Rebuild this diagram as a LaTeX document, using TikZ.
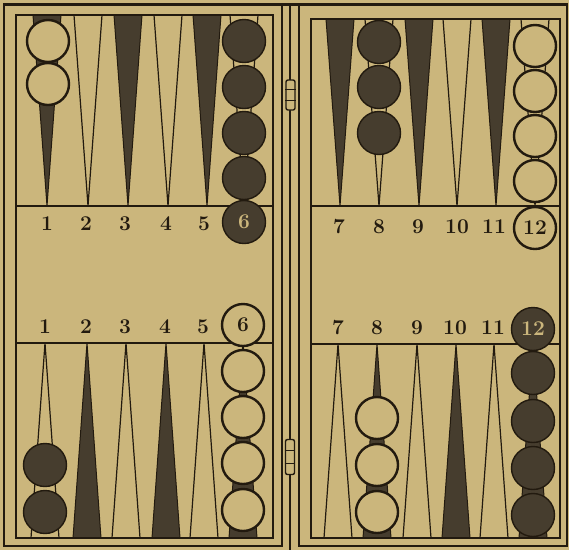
\documentclass[tikz,border=0pt]{standalone}
\usepackage{fontspec}
\usepackage{tikz}
\usetikzlibrary{positioning, calc}
\definecolor{board}{HTML}{CBB67C}
\definecolor{ink}{HTML}{221A0F}
\definecolor{stain}{HTML}{463D2E}
\tikzset{
    frame/.style={draw=ink, line width=2.4pt},
    darkpt/.style={draw=ink, fill=stain, line width=1pt},
    lightpt/.style={draw=ink, fill=board, line width=1.2pt},
    blackman/.style={circle, draw=ink, fill=stain, line width=1.4pt, minimum size=43pt, inner sep=0pt},
    whiteman/.style={circle, draw=ink, fill=board, line width=2.4pt, minimum size=42pt, inner sep=0pt},
    numlabel/.style={text=ink, font=\fontsize{21}{21}\selectfont\bfseries, inner sep=0pt},
    hinge/.style={draw=ink, fill=board, rounded corners=2pt, line width=1.4pt, minimum width=9pt, minimum height=30pt}
}

\begin{document}
\begin{tikzpicture}[x=1pt, y=-1pt]
        \useasboundingbox (0,0) rectangle (569,550);
        \fill[board] (0,0) rectangle (569,550);

        % Points
        \foreach \x/\s in {47/darkpt, 88/lightpt, 128/darkpt, 168/lightpt, 207/darkpt, 244/lightpt}
            \draw[\s] ({\x-14},15) -- (\x,206) -- ({\x+14},15) -- cycle;
        \foreach \x/\s in {340/darkpt, 379/lightpt, 419/darkpt, 457/lightpt, 496/darkpt, 535/lightpt}
            \draw[\s] ({\x-14},19) -- (\x,206) -- ({\x+14},19) -- cycle;
        \foreach \x/\s in {45/lightpt, 87/darkpt, 126/lightpt, 166/darkpt, 204/lightpt, 243/darkpt}
            \draw[\s] ({\x-14},538) -- (\x,343) -- ({\x+14},538) -- cycle;
        \foreach \x/\s in {338/lightpt, 377/darkpt, 417/lightpt, 456/darkpt, 494/lightpt, 533/darkpt}
            \draw[\s] ({\x-14},538) -- (\x,344) -- ({\x+14},538) -- cycle;

        % Boards
        \draw[frame] (4,4) rectangle (282,546);
        \draw[frame] (16,15) rectangle (273,538);
        \draw[frame] (299,4) rectangle (567,546);
        \draw[frame] (311,19) rectangle (560,538);
        \draw[frame, line width=3pt] (4,4) -- (567,4);
        \draw[frame] (290,4) -- (290,550);
        \draw[ink, line width=1.8pt] (16,206) -- (273,206);
        \draw[ink, line width=1.8pt] (16,343) -- (273,343);
        \draw[ink, line width=1.8pt] (311,206) -- (560,206);
        \draw[ink, line width=1.8pt] (311,344) -- (560,344);

        % Men
        \node[whiteman] (tl1-1) at (48,41) {};
        \node[whiteman] (tl1-2) at (48,84) {};
        \foreach \y [count=\i] in {41,87,133,178}
            \node[blackman] (tl6-\i) at (244,\y) {};
        \node[blackman, numlabel, text=board] (tl6-5) at (244,222) {6};
        \foreach \y [count=\i] in {42,87,133}
            \node[blackman] (tr8-\i) at (379,\y) {};
        \foreach \y [count=\i] in {46,91,136,181}
            \node[whiteman] (tr12-\i) at (535,\y) {};
        \node[whiteman, numlabel] (tr12-5) at (535,228) {12};
        \node[blackman] (bl1-1) at (45,465) {};
        \node[blackman] (bl1-2) at (45,512) {};
        \node[whiteman, numlabel] (bl6-1) at (243,325) {6};
        \foreach \y [count=\i from 2] in {371,417,463,510}
            \node[whiteman] (bl6-\i) at (243,\y) {};
        \foreach \y [count=\i] in {418,465,512}
            \node[whiteman] (br8-\i) at (377,\y) {};
        \node[blackman, numlabel, text=board] (br12-1) at (533,329) {12};
        \foreach \y [count=\i from 2] in {373,421,468,515}
            \node[blackman] (br12-\i) at (533,\y) {};

        % Labels
        \foreach \x [count=\n] in {47,86,125,166,204}
            \node[numlabel] (tlab\n) at (\x,224) {\n};
        \foreach \x [count=\n from 7] in {339,379,418,457,494}
            \node[numlabel] (tlab\n) at (\x,227) {\n};
        \foreach \x [count=\n] in {45,86,125,165,203}
            \node[numlabel] (blab\n) at (\x,327) {\n};
        \foreach \x [count=\n from 7] in {338,377,417,455,493}
            \node[numlabel] (blab\n) at (\x,328) {\n};

        % Hinges
        \node[hinge] (hingeup) at (290.5,95) {};
        \node[hinge, minimum height=35pt] (hingedown) at (290,457) {};
        \foreach \h in {hingeup, hingedown} {
            \draw[ink, line width=1pt] ($(\h.north west)!1/3!(\h.south west)$) -- ($(\h.north east)!1/3!(\h.south east)$);
            \draw[ink, line width=1pt] ($(\h.north west)!2/3!(\h.south west)$) -- ($(\h.north east)!2/3!(\h.south east)$);
        }
    \end{tikzpicture}
\end{document}
